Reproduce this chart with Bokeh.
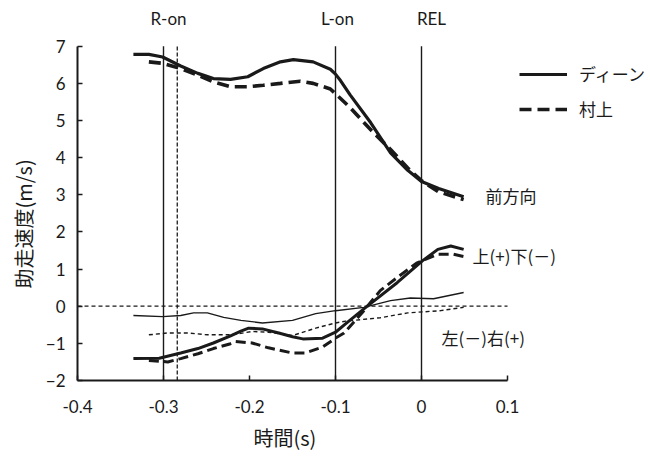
from bokeh.plotting import figure
from bokeh.models import Label, Legend, LegendItem, FixedTicker, Title
from bokeh.embed import file_html
from bokeh.resources import INLINE

# ---- data ----
x_ticks = [-0.4, -0.3, -0.2, -0.1, 0.0, 0.1]
x_tick_labels = ["-0.4", "-0.3", "-0.2", "-0.1", "0", "0.1"]
y_ticks = [-2, -1, 0, 1, 2, 3, 4, 5, 6, 7]

# forward velocity
fwd_dean_t = [-0.335, -0.317, -0.301, -0.280, -0.260, -0.242, -0.222, -0.202, -0.184, -0.164,
              -0.149, -0.126, -0.106, -0.100, -0.094, -0.083, -0.059, -0.036, -0.016, 0.000,
              0.020, 0.049]
fwd_dean_v = [6.78, 6.78, 6.71, 6.47, 6.27, 6.13, 6.11, 6.18, 6.40, 6.58,
              6.64, 6.58, 6.38, 6.25, 6.07, 5.69, 4.94, 4.13, 3.66, 3.36,
              3.17, 2.95]
fwd_mura_t = [-0.317, -0.301, -0.280, -0.260, -0.242, -0.222, -0.202, -0.184, -0.164, -0.141,
              -0.126, -0.106, -0.100, -0.083, -0.059, -0.036, -0.016, 0.000, 0.020, 0.049]
fwd_mura_v = [6.58, 6.54, 6.40, 6.22, 6.04, 5.91, 5.91, 5.95, 6.00, 6.06,
              6.00, 5.85, 5.72, 5.35, 4.75, 4.22, 3.72, 3.38, 3.08, 2.87]

# vertical velocity
ver_dean_t = [-0.335, -0.305, -0.280, -0.260, -0.242, -0.222, -0.210, -0.201, -0.185, -0.166,
              -0.150, -0.138, -0.115, -0.100, -0.088, -0.067, -0.028, 0.001, 0.019, 0.034,
              0.049]
ver_dean_v = [-1.41, -1.40, -1.26, -1.14, -0.99, -0.80, -0.67, -0.59, -0.61, -0.72,
              -0.82, -0.88, -0.86, -0.70, -0.47, -0.07, 0.64, 1.22, 1.53, 1.62,
              1.53]
ver_mura_t = [-0.317, -0.295, -0.280, -0.260, -0.242, -0.222, -0.216, -0.197, -0.178, -0.150,
              -0.135, -0.115, -0.100, -0.090, -0.067, -0.048, -0.028, -0.005, 0.019, 0.037,
              0.049]
ver_mura_v = [-1.46, -1.50, -1.41, -1.28, -1.14, -1.01, -0.95, -0.99, -1.12, -1.26,
              -1.26, -1.10, -0.86, -0.72, -0.12, 0.42, 0.78, 1.17, 1.40, 1.40,
              1.34]

# lateral velocity
lat_dean_t = [-0.335, -0.301, -0.280, -0.265, -0.249, -0.230, -0.210, -0.185, -0.150, -0.123,
              -0.100, -0.067, -0.036, -0.013, 0.014, 0.049]
lat_dean_v = [-0.25, -0.28, -0.25, -0.18, -0.18, -0.30, -0.38, -0.45, -0.38, -0.20,
              -0.12, -0.03, 0.15, 0.22, 0.20, 0.37]
lat_mura_t = [-0.317, -0.295, -0.272, -0.249, -0.222, -0.210, -0.197, -0.178, -0.150, -0.123,
              -0.100, -0.088, -0.048, -0.016, 0.022, 0.049]
lat_mura_v = [-0.77, -0.72, -0.72, -0.77, -0.77, -0.73, -0.68, -0.70, -0.79, -0.59,
              -0.45, -0.40, -0.31, -0.18, -0.12, -0.03]

# events
event_names = ["R-on", "L-on", "REL"]
event_times = [-0.3, -0.1, 0.0]
mura_ron_time = [-0.284]

series_labels = ["ディーン", "村上"]
component_labels = ["前方向", "上(+)下(－)", "左(－)右(+)"]
x_title = "時間(s)"
y_title = "助走速度(m/s)"

# ---- figure ----
JP = "Noto Sans CJK JP"
LAT = "Lato"
INK = "#1a1a1a"

W, H = 650, 456
LEFT, BOTTOM = 77, 74          # frame offsets in px
PX_PER_X = 860.0               # px per second
PX_PER_Y = 336.0 / 9.0         # px per m/s
x_max = x_ticks[0] + (W - LEFT) / PX_PER_X
y_max = y_ticks[0] + (H - BOTTOM) / PX_PER_Y

p = figure(width=W, height=H, output_backend="svg", toolbar_location=None,
           x_range=(x_ticks[0], x_max), y_range=(y_ticks[0], y_max),
           min_border_left=LEFT, min_border_right=0, min_border_top=0, min_border_bottom=BOTTOM)
p.outline_line_color = None
p.grid.visible = False
p.background_fill_color = "white"

# zero reference line
p.line([x_ticks[0], x_ticks[-1]], [0, 0], line_color=INK, line_width=1.3, line_dash="4 3")

# event lines
p.segment(x0=event_times, y0=[y_ticks[0]] * 3, x1=event_times, y1=[y_ticks[-1]] * 3,
          line_color=INK, line_width=1.4)
p.segment(x0=mura_ron_time, y0=[y_ticks[0]], x1=mura_ron_time, y1=[y_ticks[-1]],
          line_color=INK, line_width=1.3, line_dash="4 2")

# curves
r_fd = p.line(fwd_dean_t, fwd_dean_v, line_color=INK, line_width=3.2)
r_fm = p.line(fwd_mura_t, fwd_mura_v, line_color=INK, line_width=3.6, line_dash="12 6")
p.line(ver_dean_t, ver_dean_v, line_color=INK, line_width=3.0)
p.line(ver_mura_t, ver_mura_v, line_color=INK, line_width=3.0, line_dash="10 5")
p.line(lat_dean_t, lat_dean_v, line_color=INK, line_width=1.4)
p.line(lat_mura_t, lat_mura_v, line_color=INK, line_width=1.4, line_dash="4 3")

# axes
for ax in (p.xaxis[0], p.yaxis[0]):
    ax.axis_line_color = INK
    ax.axis_line_width = 2
    ax.major_tick_line_color = INK
    ax.major_tick_line_width = 1.5
    ax.major_tick_in = 5
    ax.major_tick_out = 0
    ax.minor_tick_line_color = None
    ax.major_label_text_font = LAT
    ax.major_label_text_font_size = "17px"
    ax.major_label_text_color = INK

p.xaxis.ticker = FixedTicker(ticks=x_ticks)
p.xaxis.bounds = (x_ticks[0], x_ticks[-1])
p.xaxis.major_label_overrides = {t: s for t, s in zip(x_ticks, x_tick_labels)}
p.xaxis.major_label_standoff = 19

p.yaxis.ticker = FixedTicker(ticks=y_ticks)
p.yaxis.bounds = (y_ticks[0], y_ticks[-1])
p.yaxis.major_label_standoff = 12

# axis titles (placed along the bounded axes rather than the whole frame)
p.add_layout(Title(text=x_title, align="left", offset=176, standoff=10,
                   text_font=JP, text_font_size="20px", text_font_style="normal",
                   text_color=INK), "below")
p.add_layout(Title(text=y_title, align="left", offset=92, standoff=10,
                   text_font=JP, text_font_size="20px", text_font_style="normal",
                   text_color=INK), "left")

# event labels
for name, t, off in zip(event_names, event_times, [5, 2, 10]):
    p.add_layout(Label(x=t, y=7.75, text=name, x_offset=off, text_align="center",
                       text_baseline="middle", text_font=LAT, text_font_size="17px",
                       text_color=INK))

# component labels
for txt, lx, ly in zip(component_labels, [0.0745, 0.0593, 0.0233], [2.98, 1.36, -0.83]):
    p.add_layout(Label(x=lx, y=ly, text=txt, text_align="left", text_baseline="middle",
                       text_font=JP, text_font_size="17px", text_color=INK))

# legend
legend = Legend(items=[LegendItem(label=series_labels[0], renderers=[r_fd]),
                       LegendItem(label=series_labels[1], renderers=[r_fm])],
                location=(442, 259), glyph_width=48, glyph_height=20, label_height=20,
                label_standoff=12, spacing=10, padding=0, margin=0,
                border_line_color=None, background_fill_alpha=0,
                label_text_font=JP, label_text_font_size="17px", label_text_color=INK)
p.add_layout(legend, "center")

open("out.html", "w").write(file_html(p, INLINE))
